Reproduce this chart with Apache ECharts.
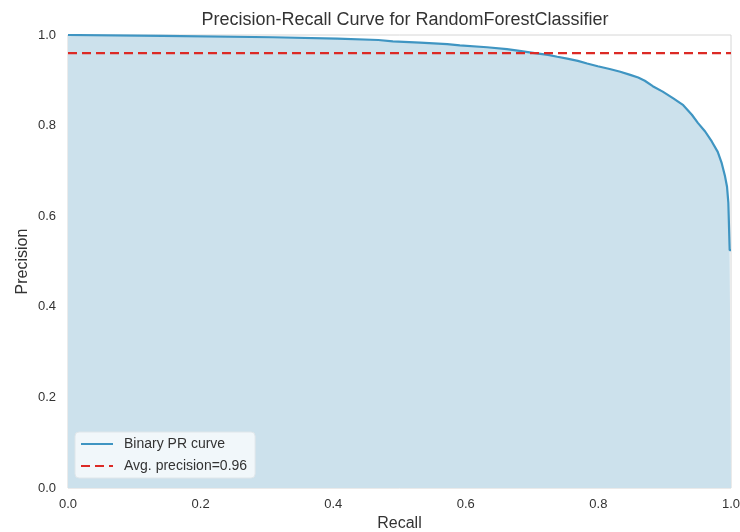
<!DOCTYPE html>
<html>
<head>
<meta charset="utf-8">
<script src="https://cdn.jsdelivr.net/npm/echarts@6/dist/echarts.min.js"></script>
<style>
  html, body { margin: 0; padding: 0; background: #fff; }
  #main { width: 740px; height: 532px; }
</style>
</head>
<body>
<div id="main"></div>
<script>
// PR curve points (recall ascending)
const recall = [0.000, 0.143, 0.309, 0.406, 0.468, 0.490, 0.531, 0.572, 0.591, 0.632,
  0.662, 0.681, 0.704, 0.724, 0.738, 0.753, 0.769, 0.783, 0.799, 0.817,
  0.833, 0.848, 0.860, 0.870, 0.882, 0.897, 0.913, 0.928, 0.941, 0.950,
  0.961, 0.971, 0.980, 0.986, 0.991, 0.994, 0.996, 0.998, 1.000];
const precision = [1.000, 0.998, 0.995, 0.992, 0.989, 0.986, 0.983, 0.980, 0.977, 0.973,
  0.969, 0.965, 0.960, 0.956, 0.952, 0.948, 0.943, 0.937, 0.931, 0.925,
  0.919, 0.912, 0.906, 0.899, 0.887, 0.875, 0.860, 0.845, 0.824, 0.806,
  0.787, 0.765, 0.742, 0.717, 0.688, 0.665, 0.630, 0.525, 0.525];

// average precision line
const avgPrecision = 0.96;
const avgRecall = [0, 1];

const font = "'Liberation Sans', Arial, sans-serif";
const textColor = "#333";

const curveData = recall.map((r, i) => [r, precision[i]]);
const avgData = avgRecall.map((r) => [r, avgPrecision]);

const options = {
  animation: false,
  textStyle: { fontFamily: font },
  title: {
    text: "Precision-Recall Curve for RandomForestClassifier",
    left: 400,
    textAlign: "center",
    top: 6,
    textStyle: { fontFamily: font, fontSize: 18, fontWeight: "normal", color: textColor },
  },
  grid: {
    left: 68, right: 9, top: 35, bottom: 44,
    outerBoundsMode: "none",
    containLabel: false,
    show: true,
    backgroundColor: "#fff",
    borderColor: "#d6d6d6",
    borderWidth: 1,
  },
  legend: {
    orient: "vertical",
    left: 75,
    top: 432,
    data: ["Binary PR curve", "Avg. precision=0.96"],
    itemWidth: 32,
    itemHeight: 14,
    itemGap: 8,
    padding: [5, 8, 5, 5],
    backgroundColor: "rgba(244,248,251,0.92)",
    borderColor: "#dfe6ea",
    borderWidth: 1,
    borderRadius: 4,
    itemStyle: { opacity: 0 },
    textStyle: { fontFamily: font, fontSize: 14, color: textColor, padding: [0, 0, 0, 6] },
  },
  xAxis: {
    type: "value",
    min: 0, max: 1, interval: 0.2,
    name: "Recall",
    nameLocation: "middle",
    nameGap: 27,
    nameTextStyle: { fontFamily: font, fontSize: 16, color: textColor },
    axisLine: { show: false },
    axisTick: { show: false },
    splitLine: { show: false },
    axisLabel: {
      fontFamily: font, fontSize: 13, color: textColor, margin: 10,
      formatter: (v) => v.toFixed(1),
    },
  },
  yAxis: {
    type: "value",
    min: 0, max: 1, interval: 0.2,
    name: "Precision",
    nameLocation: "middle",
    nameGap: 37,
    nameMoveOverlap: false,
    nameTextStyle: { fontFamily: font, fontSize: 16, color: textColor },
    axisLine: { show: false },
    axisTick: { show: false },
    splitLine: { show: false },
    axisLabel: {
      fontFamily: font, fontSize: 13, color: textColor, margin: 12,
      formatter: (v) => v.toFixed(1),
    },
  },
  series: [
    {
      name: "Binary PR curve",
      type: "line",
      data: curveData,
      symbol: "none",
      lineStyle: { color: "#3f95c2", width: 2.2 },
      itemStyle: { color: "#3f95c2" },
      areaStyle: { color: "#cce1ec", opacity: 1, origin: "start" },
      z: 2,
    },
    {
      name: "Avg. precision=0.96",
      type: "line",
      data: avgData,
      symbol: "none",
      lineStyle: { color: "#dc2a25", width: 2.2, type: [9, 5] },
      itemStyle: { color: "#dc2a25" },
      z: 3,
    },
  ],
};

let myChart = echarts.init(document.getElementById("main"));
myChart.setOption(options);
</script>
</body>
</html>
